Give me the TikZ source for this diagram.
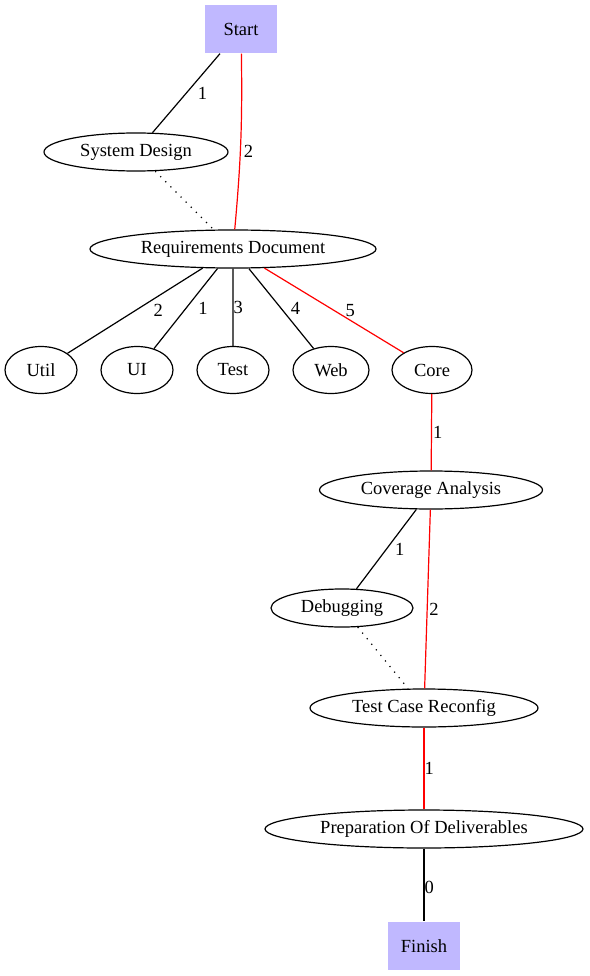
\documentclass[tikz,border=0pt]{standalone}
\usepackage{fontspec}
\setmainfont{Liberation Serif}
\usetikzlibrary{shapes.geometric,positioning}
\definecolor{boxfill}{HTML}{C0B8FF}

\begin{document}
\begin{tikzpicture}[x=1pt,y=-1pt,font=\fontsize{18.5}{21}\selectfont,line width=1.2pt,
	box/.style={rectangle,fill=boxfill,inner sep=0,minimum width=72pt,minimum height=48pt},
	task/.style={ellipse,draw,inner sep=0,minimum height=38pt},
	part/.style={task,minimum width=72pt,minimum height=47pt},
	crit/.style={draw=red},
	lbl/.style={inner sep=0,anchor=west,text=black},
	soft/.style={dash pattern=on 1.2pt off 6pt}]
	\useasboundingbox (0,0) rectangle (589,976);
	\node[box] (start) at (241,29) {Start};
	\node[task,minimum width=184pt] (sysdesign) at (136,152) {System Design};
	\node[task,minimum width=286pt] (reqdoc) at (233,249) {Requirements Document};
	\node[part] (util) at (41,370) {Util};
	\node[part] (ui) [right=22.8pt of util] {UI};
	\node[part] (test) [right=22.8pt of ui] {Test};
	\node[part,minimum width=76pt] (web) [right=22.8pt of test] {Web};
	\node[part,minimum width=80pt] (core) [right=21.8pt of web] {Core};
	\node[task,minimum width=223pt] (coverage) at (431,490) {Coverage Analysis};
	\node[task,minimum width=142pt] (debug) at (342,608) {Debugging};
	\node[task,minimum width=228pt] (reconfig) at (424,708) {Test Case Reconfig};
	\node[task,minimum width=318pt] (deliver) at (424,829) {Preparation Of Deliverables};
	\node[box] (finish) at (424,946) {Finish};
	\path
	(start) edge node[lbl,xshift=11pt] {1} (sysdesign)
	edge [crit,bend left=3] node[lbl,pos=0.56,xshift=3pt] {2} (reqdoc)
	(sysdesign) edge [soft] (reqdoc)
	(reqdoc) edge node[lbl,xshift=18pt] {2} (util)
	edge node[lbl,xshift=12pt] {1} (ui)
	edge node[lbl,xshift=0pt] {3} (test)
	edge node[lbl,xshift=9pt] {4} (web)
	edge [crit] node[lbl,xshift=11pt] {5} (core)
	(core) edge [crit] node[lbl,xshift=1pt] {1} (coverage)
	(coverage) edge node[lbl,xshift=8pt] {1} (debug)
	edge [crit] node[lbl,pos=0.56,xshift=1.5pt] {2} (reconfig)
	(debug) edge [soft] (reconfig)
	(reconfig) edge [crit] node[lbl,xshift=0pt] {1} (deliver)
	(deliver) edge node[lbl,pos=0.53,xshift=0pt] {0} (finish);
\end{tikzpicture}
\end{document}
